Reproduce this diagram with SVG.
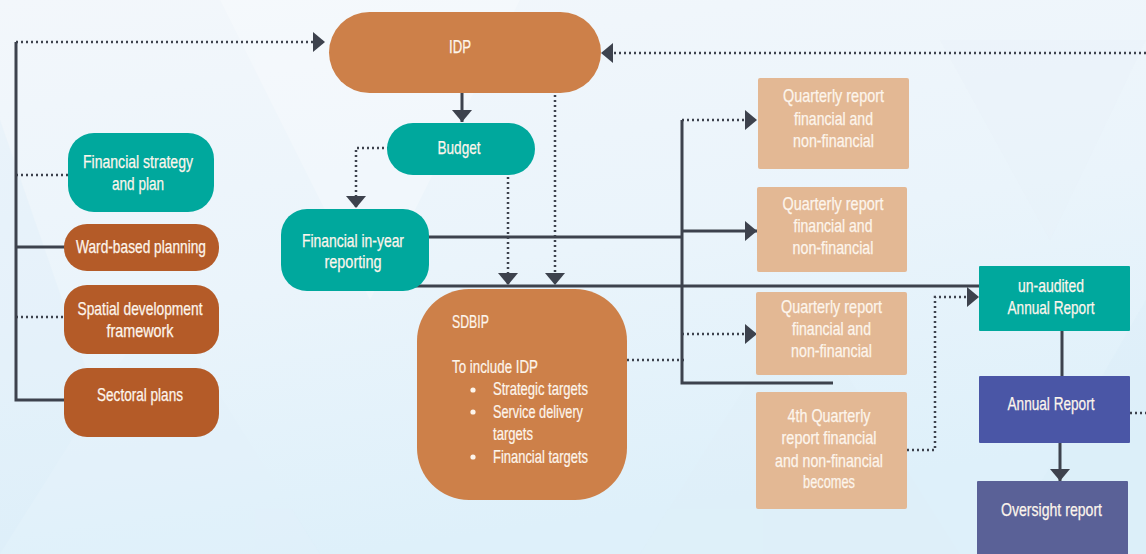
<svg xmlns="http://www.w3.org/2000/svg" width="1146" height="554" viewBox="0 0 1146 554">
  <defs>
    <linearGradient id="bg" x1="0" y1="0" x2="0.3" y2="1">
      <stop offset="0" stop-color="#f3f7fb"/>
      <stop offset="0.55" stop-color="#eaf4fb"/>
      <stop offset="1" stop-color="#def0fa"/>
    </linearGradient>
    <marker id="arrow" markerUnits="userSpaceOnUse" markerWidth="12" markerHeight="20" refX="12" refY="10" orient="auto">
      <path d="M0,0 L12,10 L0,20 Z" fill="#3d424d"/>
    </marker>
    <style>
      .solid { fill: none; stroke: #3d424d; stroke-width: 3; }
      .dot { fill: none; stroke: #3d424d; stroke-width: 2.5; stroke-dasharray: 2 3; }
      .lbl { font-family: "Liberation Sans", Arial, sans-serif; font-size: 19px; fill: #fdf5ec; text-anchor: middle; stroke: #fdf5ec; stroke-width: 0.25; }
      .lbl-s { font-family: "Liberation Sans", Arial, sans-serif; font-size: 18.5px; fill: #fdf5ec; stroke: #fdf5ec; stroke-width: 0.2; }
      .orange { fill: #cd8049; }
      .brown { fill: #b45b28; }
      .teal { fill: #00a89d; }
      .tan { fill: #e3b894; }
      .blue { fill: #4a56a6; }
      .slate { fill: #5a6197; }
    </style>
  </defs>

  <!-- background -->
  <rect width="1146" height="554" fill="url(#bg)"/>
  <g opacity="0.25">
    <polygon points="0,120 150,554 0,554" fill="#d9ecf8"/>
    <polygon points="220,0 520,0 370,300" fill="#ffffff"/>
    <polygon points="940,40 1146,40 1050,240" fill="#e6f1f9"/>
    <polygon points="640,554 800,300 960,554" fill="#e1eff9"/>
    <polygon points="1000,554 1146,300 1146,554" fill="#d6ebf8"/>
    <polygon points="160,300 320,554 0,554" fill="#e3f1fa"/>
  </g>

  <!-- connectors -->
  <g id="connectors">
    <path class="solid" d="M16,42 V400 H66"/>
    <path class="solid" d="M16,247 H66"/>
    <path class="dot" d="M16,42 H325" marker-end="url(#arrow)"/>
    <path class="dot" d="M16,175 H70"/>
    <path class="dot" d="M16,317 H66"/>
    <path class="dot" d="M1146,53 H601" marker-end="url(#arrow)"/>
    <path class="solid" d="M462,93 V122" marker-end="url(#arrow)"/>
    <path class="dot" d="M389,148 H356 V208" marker-end="url(#arrow)"/>
    <path class="dot" d="M508,177 V285" marker-end="url(#arrow)"/>
    <path class="dot" d="M555,95 V285" marker-end="url(#arrow)"/>
    <path class="solid" d="M425,237 H682"/>
    <path class="solid" d="M400,286 H980"/>
    <path class="solid" d="M682,120 V383 H833"/>
    <path class="dot" d="M682,120 H757" marker-end="url(#arrow)"/>
    <path class="solid" d="M682,231 H757" marker-end="url(#arrow)"/>
    <path class="dot" d="M682,334 H757" marker-end="url(#arrow)"/>
    <path class="dot" d="M627,360 H686"/>
    <path class="dot" d="M907,450 H935 V297 H979" marker-end="url(#arrow)"/>
    <path class="solid" d="M1062,331 V376"/>
    <path class="dot" d="M1130,413 H1146"/>
    <path class="solid" d="M1060,443 V481" marker-end="url(#arrow)"/>
  </g>

  <!-- planning inputs -->
  <g id="financial-strategy">
    <rect class="teal" x="68" y="133" width="146" height="79" rx="26"/>
    <text class="lbl" x="138" y="168" textLength="110" lengthAdjust="spacingAndGlyphs">Financial strategy</text>
    <text class="lbl" x="138" y="190" textLength="52" lengthAdjust="spacingAndGlyphs">and plan</text>
  </g>
  <g id="ward-based">
    <rect class="brown" x="64" y="224" width="155" height="47" rx="23"/>
    <text class="lbl" x="141" y="253" textLength="130" lengthAdjust="spacingAndGlyphs">Ward-based planning</text>
  </g>
  <g id="spatial">
    <rect class="brown" x="64" y="285" width="155" height="69" rx="23"/>
    <text class="lbl" x="140" y="315" textLength="125" lengthAdjust="spacingAndGlyphs">Spatial development</text>
    <text class="lbl" x="140" y="337" textLength="67" lengthAdjust="spacingAndGlyphs">framework</text>
  </g>
  <g id="sectoral">
    <rect class="brown" x="64" y="368" width="155" height="69" rx="23"/>
    <text class="lbl" x="140" y="401" textLength="86" lengthAdjust="spacingAndGlyphs">Sectoral plans</text>
  </g>

  <!-- core plan -->
  <g id="idp">
    <rect class="orange" x="329" y="12" width="272" height="81" rx="40.5"/>
    <text class="lbl" x="460" y="53" textLength="22" lengthAdjust="spacingAndGlyphs">IDP</text>
  </g>
  <g id="budget">
    <rect class="teal" x="387" y="123" width="148" height="52" rx="26"/>
    <text class="lbl" x="459" y="154" textLength="43" lengthAdjust="spacingAndGlyphs">Budget</text>
  </g>
  <g id="in-year">
    <rect class="teal" x="281" y="209" width="148" height="82" rx="26"/>
    <text class="lbl" x="353" y="247" textLength="102" lengthAdjust="spacingAndGlyphs">Financial in-year</text>
    <text class="lbl" x="353" y="268" textLength="57" lengthAdjust="spacingAndGlyphs">reporting</text>
  </g>
  <g id="sdbip">
    <rect class="orange" x="417" y="289" width="210" height="211" rx="52"/>
    <text class="lbl-s" x="452" y="328" textLength="37" lengthAdjust="spacingAndGlyphs">SDBIP</text>
    <text class="lbl-s" x="452" y="373" textLength="86" lengthAdjust="spacingAndGlyphs">To include IDP</text>
    <circle cx="473" cy="390" r="2.6" fill="#fdf5ec"/>
    <text class="lbl-s" x="493" y="395" textLength="95" lengthAdjust="spacingAndGlyphs">Strategic targets</text>
    <circle cx="473" cy="412" r="2.6" fill="#fdf5ec"/>
    <text class="lbl-s" x="493" y="418" textLength="90" lengthAdjust="spacingAndGlyphs">Service delivery</text>
    <text class="lbl-s" x="493" y="440" textLength="40" lengthAdjust="spacingAndGlyphs">targets</text>
    <circle cx="473" cy="457" r="2.6" fill="#fdf5ec"/>
    <text class="lbl-s" x="493" y="463" textLength="95" lengthAdjust="spacingAndGlyphs">Financial targets</text>
  </g>

  <!-- quarterly reports -->
  <g id="quarter-1">
    <rect class="tan" x="758" y="78" width="151" height="91" rx="2"/>
    <text class="lbl" x="833.5" y="102" textLength="101" lengthAdjust="spacingAndGlyphs">Quarterly report</text>
    <text class="lbl" x="833.5" y="125" textLength="79" lengthAdjust="spacingAndGlyphs">financial and</text>
    <text class="lbl" x="833.5" y="147" textLength="81" lengthAdjust="spacingAndGlyphs">non-financial</text>
  </g>
  <g id="quarter-2">
    <rect class="tan" x="757" y="187" width="150" height="85" rx="2"/>
    <text class="lbl" x="833" y="210" textLength="101" lengthAdjust="spacingAndGlyphs">Quarterly report</text>
    <text class="lbl" x="833" y="232" textLength="79" lengthAdjust="spacingAndGlyphs">financial and</text>
    <text class="lbl" x="833" y="254" textLength="81" lengthAdjust="spacingAndGlyphs">non-financial</text>
  </g>
  <g id="quarter-3">
    <rect class="tan" x="756" y="292" width="151" height="83" rx="2"/>
    <text class="lbl" x="831.5" y="313" textLength="101" lengthAdjust="spacingAndGlyphs">Quarterly report</text>
    <text class="lbl" x="831.5" y="335" textLength="79" lengthAdjust="spacingAndGlyphs">financial and</text>
    <text class="lbl" x="831.5" y="357" textLength="81" lengthAdjust="spacingAndGlyphs">non-financial</text>
  </g>
  <g id="quarter-4">
    <rect class="tan" x="756" y="392" width="151" height="117" rx="2"/>
    <text class="lbl" x="829" y="422" textLength="83" lengthAdjust="spacingAndGlyphs">4th Quarterly</text>
    <text class="lbl" x="829" y="444" textLength="95" lengthAdjust="spacingAndGlyphs">report financial</text>
    <text class="lbl" x="829" y="467" textLength="108" lengthAdjust="spacingAndGlyphs">and non-financial</text>
    <text class="lbl" x="829" y="488" textLength="52" lengthAdjust="spacingAndGlyphs">becomes</text>
  </g>

  <!-- annual cycle -->
  <g id="unaudited">
    <rect class="teal" x="979" y="266" width="151" height="65" rx="1"/>
    <text class="lbl" x="1051" y="292" textLength="66" lengthAdjust="spacingAndGlyphs">un-audited</text>
    <text class="lbl" x="1051" y="314" textLength="87" lengthAdjust="spacingAndGlyphs">Annual Report</text>
  </g>
  <g id="annual">
    <rect class="blue" x="979" y="376" width="151" height="67" rx="1"/>
    <text class="lbl" x="1051" y="410" textLength="87" lengthAdjust="spacingAndGlyphs">Annual Report</text>
  </g>
  <g id="oversight">
    <rect class="slate" x="977" y="481" width="151" height="80" rx="1"/>
    <text class="lbl" x="1051.5" y="516" textLength="101" lengthAdjust="spacingAndGlyphs">Oversight report</text>
  </g>
</svg>
